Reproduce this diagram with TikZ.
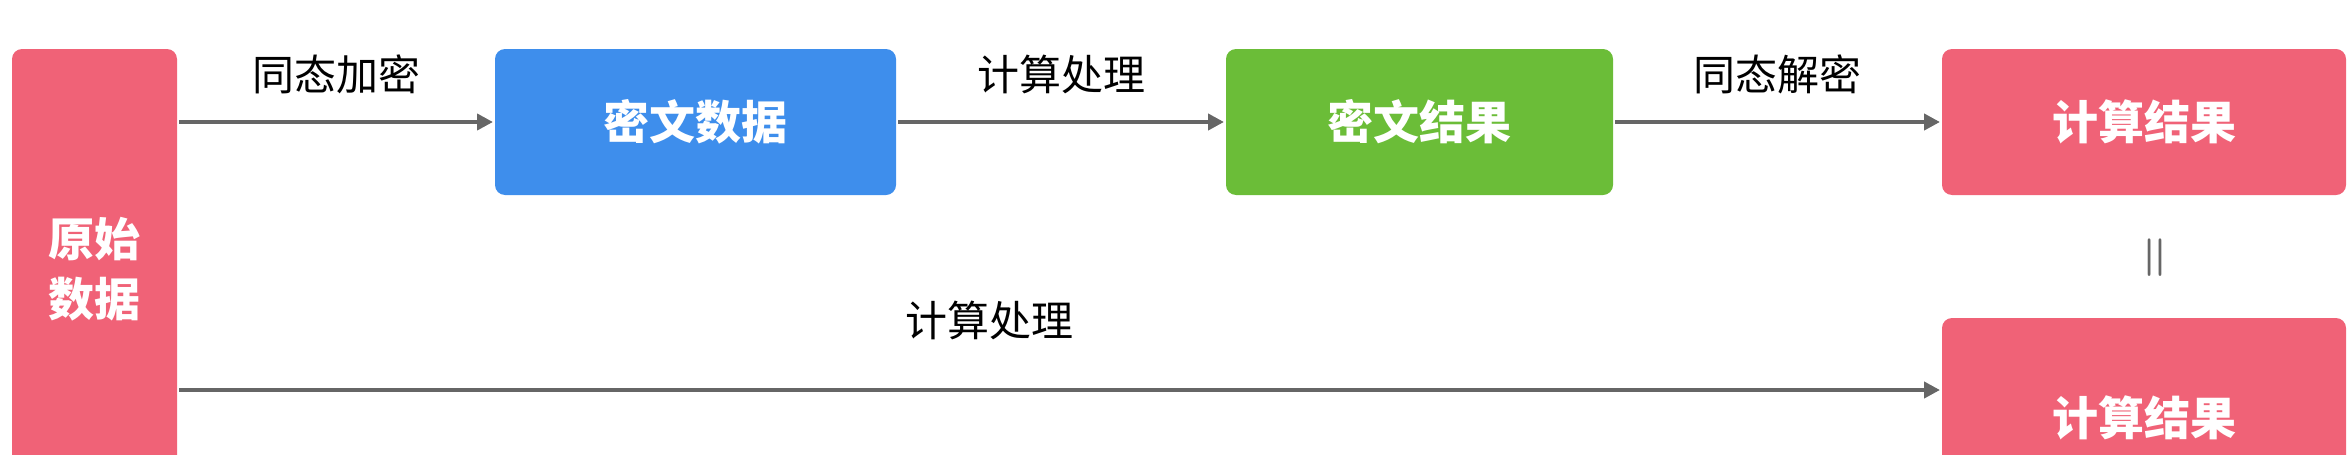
\documentclass[tikz,border=0pt]{standalone}
\usepackage{fontspec}
\newfontfamily\cjk{Noto Sans CJK SC}
\usetikzlibrary{positioning}
\usetikzlibrary{arrows.meta}

\definecolor{rose}{HTML}{F06277}
\definecolor{sky}{HTML}{3E8EEC}
\definecolor{leaf}{HTML}{6BBD38}
\definecolor{arrowgray}{HTML}{666666}

\begin{document}
\begin{tikzpicture}[
            x = 1pt, y = -1pt,
            > = {Triangle[length=16pt,width=16pt]}, % arrow head style
            line width = 4pt, % line style
            box/.style = {rounded corners=10pt, text=white, inner sep=0pt,
                font=\cjk\fontsize{46}{60}\selectfont\bfseries, align=center},
            stage/.style = {font=\cjk\fontsize{42}{50}\selectfont, inner sep=0pt, text=black}
        ]
        \useasboundingbox (0,0) rectangle (2350,455);

        % boxes
        \node[box, fill=rose, minimum width=165pt, minimum height=440pt] (RAW) at (94.5,269) {原始\\数据};
        \node[box, fill=sky, minimum width=401pt, minimum height=146pt] (CIPHER) at (695.5,122) {密文数据};
        \node[box, fill=leaf, minimum width=387pt, minimum height=146pt] (CRES) at (1419.5,122) {密文结果};
        \node[box, fill=rose, minimum width=404pt, minimum height=146pt] (RES1) at (2144,122) {计算结果};
        \node[box, fill=rose, minimum width=404pt, minimum height=200pt] (RES2) at (2144,418) {计算结果};

        \node[font=\bfseries\fontsize{50}{50}\selectfont, text=arrowgray, rotate=90] (EQ) at (2158,258) {=};

        % connectors
        \draw[->, arrowgray] (RAW.east |- CIPHER) -- (CIPHER.west) node[stage, midway, above=26pt] {同态加密};
        \draw[->, arrowgray] (CIPHER.east) -- (CRES.west) node[stage, midway, above=26pt] {计算处理};
        \draw[->, arrowgray] (CRES.east) -- (RES1.west) node[stage, midway, above=26pt] {同态解密};
        \draw[->, arrowgray] (RAW.east |- 0,390) -- (RES2.west |- 0,390) node[stage, pos=0.46, above=48pt] {计算处理};
\end{tikzpicture}
\end{document}
